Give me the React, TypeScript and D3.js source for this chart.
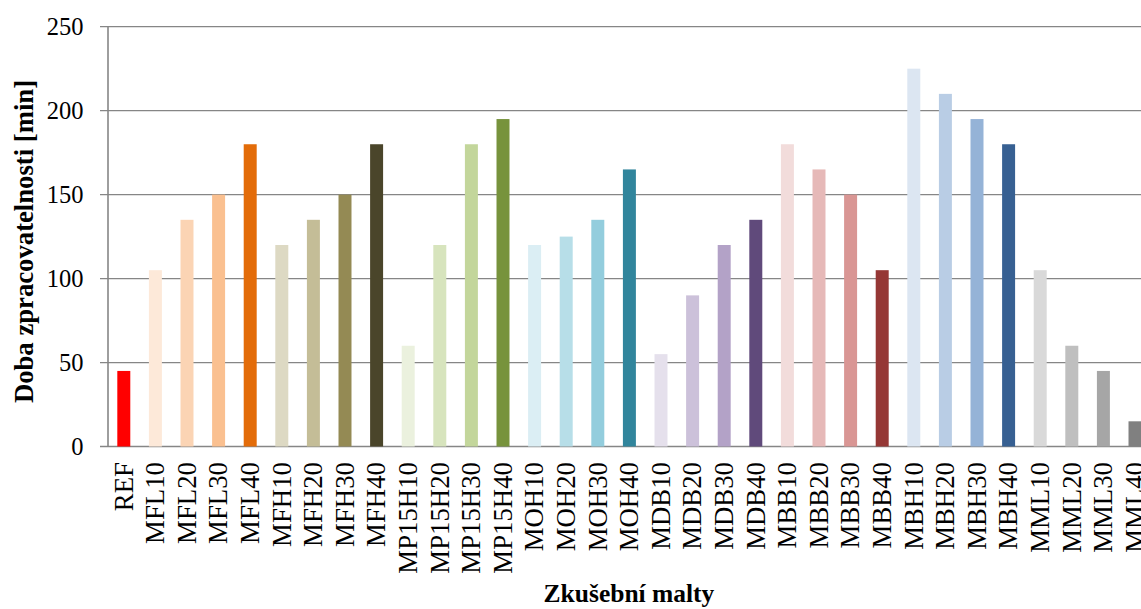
import React from "react";
import * as d3 from "d3";

const categories = [
  "REF", "MFL10", "MFL20", "MFL30", "MFL40", "MFH10", "MFH20", "MFH30", "MFH40",
  "MP15H10", "MP15H20", "MP15H30", "MP15H40", "MOH10", "MOH20", "MOH30", "MOH40",
  "MDB10", "MDB20", "MDB30", "MDB40", "MBB10", "MBB20", "MBB30", "MBB40",
  "MBH10", "MBH20", "MBH30", "MBH40", "MML10", "MML20", "MML30", "MML40",
];
const values = [
  45, 105, 135, 150, 180, 120, 135, 150, 180,
  60, 120, 180, 195, 120, 125, 135, 165,
  55, 90, 120, 135, 180, 165, 150, 105,
  225, 210, 195, 180, 105, 60, 45, 15,
];
const colors = [
  "#FF0000", "#FDE9D9", "#FBD4B4", "#FAC090", "#E36C09", "#DDD9C3", "#C4BD97", "#948A54", "#4A452A",
  "#EBF1DE", "#D7E4BD", "#C3D69B", "#77933C", "#DBEEF4", "#B7DEE8", "#93CDDD", "#31859C",
  "#E5E0EC", "#CCC1DA", "#B3A2C7", "#604A7B", "#F2DCDB", "#E6B9B8", "#D99694", "#953735",
  "#DCE6F2", "#B9CDE5", "#95B3D7", "#376092", "#D9D9D9", "#BFBFBF", "#A6A6A6", "#808080",
];
const yTicks = [0, 50, 100, 150, 200, 250];
const yTitle = "Doba zpracovatelnosti [min]";
const xTitle = "Zkušební malty";

const W = 1141;
const H = 609;
const left = 108;
const step = 31.6;
const gridColor = "#868686";
const font = "'Liberation Serif', 'Times New Roman', serif";

export default function App() {
  const x = d3
    .scaleBand<string>()
    .domain(categories)
    .range([left, left + categories.length * step])
    .paddingInner(0.589)
    .paddingOuter(0.2945);
  const y = d3.scaleLinear().domain([0, 250]).range([446.5, 26.7]);

  return (
    <svg
      width={W}
      height={H}
      style={{ position: "absolute", left: 0, top: 0, background: "#fff" }}
    >
      <rect x={0} y={0} width={W} height={H} fill="#fff" />
      {yTicks.map((t) => (
        <g key={t}>
          <line
            x1={left - 8}
            x2={W}
            y1={y(t)}
            y2={y(t)}
            stroke={gridColor}
            strokeWidth={t === 0 ? 1.6 : 1.3}
          />
          <text
            x={83.5}
            y={y(t)}
            dy="0.35em"
            textAnchor="end"
            fontFamily={font}
            fontSize={24.5}
            fill="#000"
          >
            {t}
          </text>
        </g>
      ))}
      <line x1={left} x2={left} y1={y(250)} y2={y(0)} stroke={gridColor} strokeWidth={1.6} />
      {categories.map((c, i) => (
        <rect
          key={c}
          x={x(c)}
          y={y(values[i])}
          width={x.bandwidth()}
          height={y(0) - y(values[i])}
          fill={colors[i]}
        />
      ))}
      {categories.map((c) => (
        <text
          key={"l" + c}
          transform={`translate(${(x(c) as number) + x.bandwidth() / 2},462) rotate(-90)`}
          dy="0.33em"
          textAnchor="end"
          fontFamily={font}
          fontSize={26.8}
          fill="#000"
        >
          {c}
        </text>
      ))}
      <text
        transform="translate(33,241.5) rotate(-90)"
        textAnchor="middle"
        fontFamily={font}
        fontWeight="bold"
        fontSize={26.7}
        fill="#000"
      >
        {yTitle}
      </text>
      <text
        x={629}
        y={602}
        textAnchor="middle"
        fontFamily={font}
        fontWeight="bold"
        fontSize={25.5}
        fill="#000"
      >
        {xTitle}
      </text>
    </svg>
  );
}
